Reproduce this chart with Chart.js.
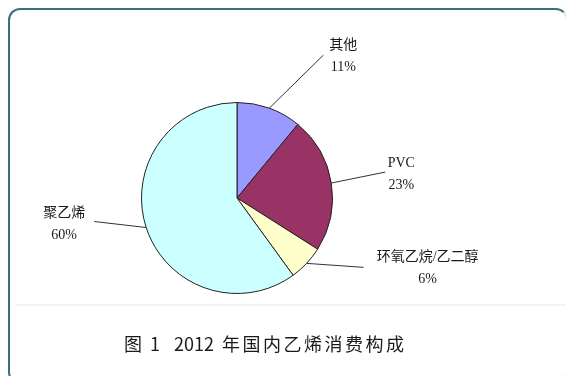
<!DOCTYPE html>
<html>
<head>
<meta charset="utf-8">
<script src="https://cdn.jsdelivr.net/npm/chart.js@4/dist/chart.umd.min.js"></script>
<style>
  html, body { margin: 0; padding: 0; background: #fff; }
  #wrap { position: relative; width: 566px; height: 376px; overflow: hidden; }
  #frame {
    position: absolute; left: 8px; top: 8px; width: 560px; height: 376px;
    border: 2px solid #3d6e7e; border-right-color: #d8e4e8;
    border-radius: 12px; box-sizing: border-box;
  }
  #band { position: absolute; left: 16px; right: 0; top: 304px; height: 2px; background: #f4f4f4; }
  #caption {
    position: absolute; left: 124px; top: 330px; white-space: nowrap;
    font-family: "Noto Sans CJK SC", sans-serif; font-size: 18px; color: #1a1a1a;
  }
  #caption .cn { letter-spacing: 2.5px; margin-left: 8px; }
  #caption .num1 { margin-left: 8px; }
  #caption .year { margin-left: 14px; }
  canvas { position: absolute; left: 0; top: 0; }
</style>
</head>
<body>
<div id="wrap">
  <div id="frame"></div>
  <div id="band"></div>
  <canvas id="myChart" width="566" height="376"></canvas>
  <div id="caption"><span>图</span><span class="num1">1</span><span class="year">2012</span><span class="cn">年国内乙烯消费构成</span></div>
</div>
<script>
const categories = ['其他', 'PVC', '环氧乙烷/乙二醇', '聚乙烯'];
const shares = [11, 23, 6, 60];
const sliceColors = ['#9999ff', '#993366', '#ffffcc', '#ccffff'];

// leader line end offset from slice edge, and text offset from line end
const labelLayout = [
  { dx: 54, dy: -53, tx: 20, ty: -10 },
  { dx: 54, dy: -11, tx: 16, ty: -9 },
  { dx: 57, dy: 4, tx: 64, ty: -10 },
  { dx: -52, dy: -6, tx: -30, ty: -8 }
];

const leaderLabels = {
  id: 'leaderLabels',
  afterDatasetsDraw(chart) {
    const ctx = chart.ctx;
    const arcs = chart.getDatasetMeta(0).data;
    ctx.save();
    arcs.forEach((arc, i) => {
      const p = arc.getProps(['x', 'y', 'startAngle', 'endAngle', 'outerRadius'], true);
      const mid = (p.startAngle + p.endAngle) / 2;
      const sx = p.x + Math.cos(mid) * p.outerRadius;
      const sy = p.y + Math.sin(mid) * p.outerRadius;
      const l = labelLayout[i];
      const ex = sx + l.dx, ey = sy + l.dy;
      ctx.strokeStyle = '#333';
      ctx.lineWidth = 1;
      ctx.beginPath();
      ctx.moveTo(sx, sy);
      ctx.lineTo(ex, ey);
      ctx.stroke();
      ctx.fillStyle = '#1a1a1a';
      ctx.textAlign = 'center';
      ctx.textBaseline = 'middle';
      ctx.font = '14px "Liberation Serif", "Noto Sans CJK SC", serif';
      ctx.fillText(categories[i], ex + l.tx, ey + l.ty);
      ctx.fillText(shares[i] + '%', ex + l.tx, ey + l.ty + 22);
    });
    ctx.restore();
  }
};

const ctx = document.getElementById('myChart').getContext('2d');
new Chart(ctx, {
  type: 'pie',
  data: {
    labels: categories,
    datasets: [{
      data: shares,
      backgroundColor: sliceColors,
      borderColor: '#222',
      borderWidth: 1
    }]
  },
  options: {
    responsive: false,
    animation: false,
    layout: { padding: { left: 141, right: 233, top: 102, bottom: 82 } },
    plugins: {
      legend: { display: false },
      tooltip: { enabled: false }
    }
  },
  plugins: [leaderLabels]
});
</script>
</body>
</html>
